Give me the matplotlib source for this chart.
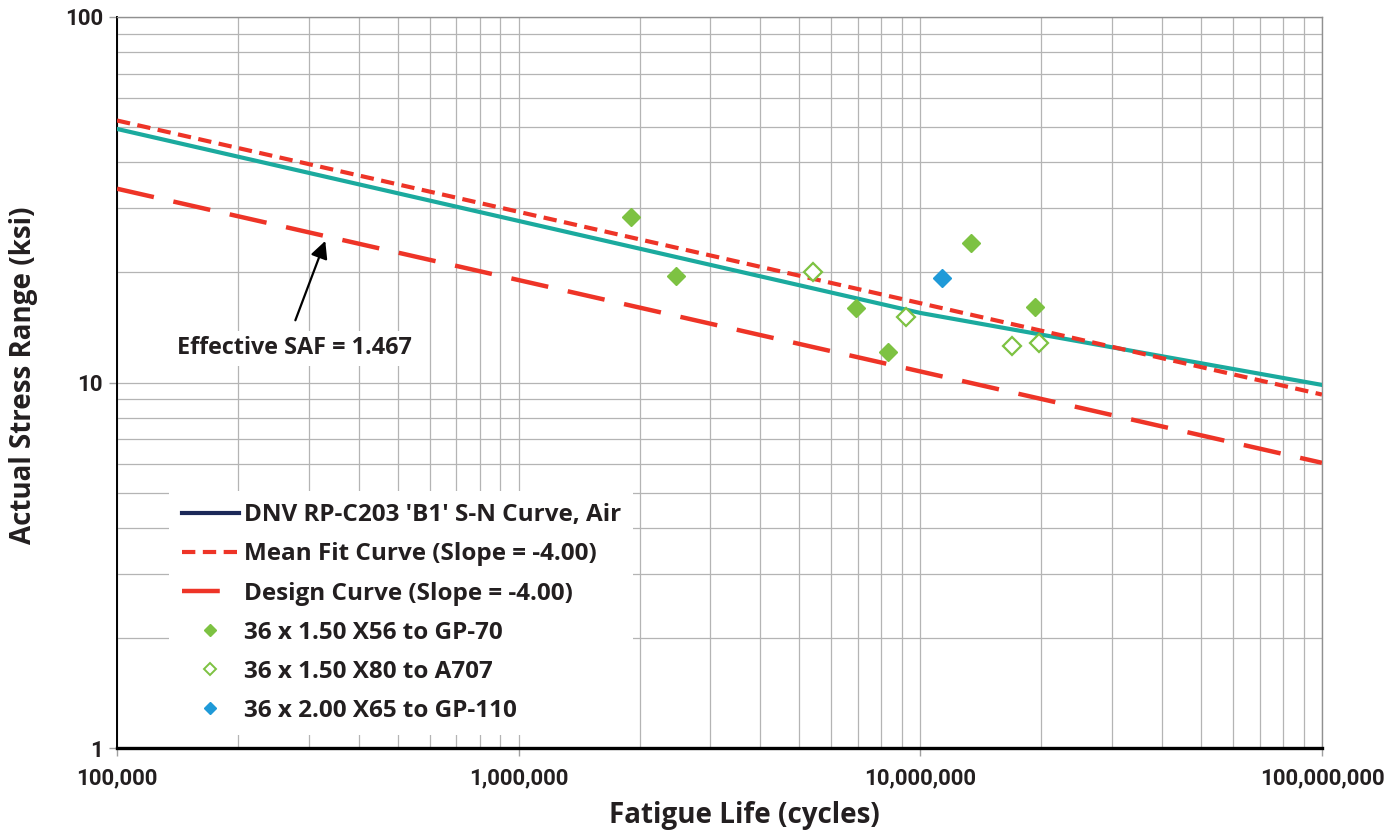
"""
S-N plot: fatigue life vs actual stress range, log-log,
DNV B1 air curve with mean fit / design curves and test points.
"""

import numpy as np
import matplotlib
matplotlib.use("Agg")
import matplotlib.pyplot as plt
from matplotlib.lines import Line2D
from matplotlib.ticker import FixedLocator, FuncFormatter, NullFormatter

# ======== Data ========

# DNV RP-C203 B1 air curve (bilinear, knee at 1e7 cycles)
dnv_n = [1e5, 1e7, 1e8]
dnv_s = [49.4, 15.5, 9.85]

# Mean fit and design curves (slope -4)
mean_n = [1e5, 1e8]
mean_s = [52.1, 9.27]
design_n = [1e5, 1e8]
design_s = [33.9, 6.03]

# Test data
x56_n = [1.9e6, 2.46e6, 6.9e6, 8.3e6, 1.34e7, 1.93e7]
x56_s = [28.4, 19.6, 16.0, 12.1, 24.1, 16.1]

x80_n = [5.4e6, 9.2e6, 1.69e7, 1.98e7]
x80_s = [20.0, 15.1, 12.6, 12.8]

x65_n = [1.13e7]
x65_s = [19.3]

saf_label = "Effective SAF = 1.467"
saf_tip = (3.3e5, 24.4)
saf_tail = (2.78e5, 14.8)

# ======== Style ========

TEAL = "#1BAA9E"
NAVY = "#1C2858"
RED = "#EE3427"
GREEN = "#7DC242"
BLUE = "#1F9AD8"
GRID = "#B4B4B4"
TEXT = "#231F20"

MAIN_FONT = "Open Sans"
TICK_FONT = "Roboto"

plt.rcParams["font.family"] = MAIN_FONT


def main():
    fig = plt.figure(figsize=(13.98, 8.33), dpi=100)
    ax = fig.add_axes([0.0837, 0.102, 0.8619, 0.8776])

    ax.set_xscale("log")
    ax.set_yscale("log")
    ax.set_xlim(1e5, 1e8)
    ax.set_ylim(1, 100)

    # grid
    ax.grid(True, which="both", color=GRID, linewidth=0.9, zorder=0)
    ax.set_axisbelow(True)

    # curves
    ax.plot(dnv_n, dnv_s, color=TEAL, linewidth=3.0, zorder=3)
    ax.plot(mean_n, mean_s, color=RED, linewidth=3.0, dashes=(3.2, 1.8), zorder=4)
    ax.plot(design_n, design_s, color=RED, linewidth=3.2, dashes=(8.5, 4.5), zorder=4)

    # points
    ax.plot(x56_n, x56_s, linestyle="none", marker="D", markersize=9.5,
            color=GREEN, markeredgecolor=GREEN, zorder=5)
    ax.plot(x80_n, x80_s, linestyle="none", marker="D", markersize=9.5,
            markerfacecolor="white", markeredgecolor=GREEN, markeredgewidth=1.6, zorder=5)
    ax.plot(x65_n, x65_s, linestyle="none", marker="D", markersize=9.5,
            color=BLUE, markeredgecolor=BLUE, zorder=5)

    # SAF annotation
    ax.annotate("", xy=saf_tip, xytext=saf_tail,
                arrowprops=dict(arrowstyle="-|>", color="black", lw=1.6,
                                mutation_scale=26, shrinkA=0, shrinkB=0),
                zorder=6)
    ax.text(2.76e5, 12.4, saf_label, ha="center", va="center",
            family=MAIN_FONT, fontsize=16.8, fontweight="bold", color=TEXT, zorder=6,
            bbox=dict(facecolor="white", edgecolor="none", pad=4))

    # legend (proxy handles, as in the source the B1 entry shows navy)
    handles = [
        Line2D([], [], color=NAVY, linewidth=3.0),
        Line2D([], [], color=RED, linewidth=3.0, dashes=(3.2, 1.8)),
        Line2D([], [], color=RED, linewidth=3.2, dashes=(8.5, 4.5)),
        Line2D([], [], linestyle="none", marker="D", markersize=6, color=GREEN),
        Line2D([], [], linestyle="none", marker="D", markersize=6,
               markerfacecolor="white", markeredgecolor=GREEN, markeredgewidth=1.4),
        Line2D([], [], linestyle="none", marker="D", markersize=6, color=BLUE),
    ]
    labels = [
        "DNV RP-C203 'B1' S-N Curve, Air",
        "Mean Fit Curve (Slope = -4.00)",
        "Design Curve (Slope = -4.00)",
        "36 x 1.50 X56 to GP-70",
        "36 x 1.50 X80 to A707",
        "36 x 2.00 X65 to GP-110",
    ]
    leg = ax.legend(handles, labels, loc="lower left", bbox_to_anchor=(0.0435, 0.018),
                    frameon=True, fancybox=False, framealpha=1.0, edgecolor="none",
                    prop=dict(family=MAIN_FONT, size=17.5, weight="bold"),
                    handlelength=2.35, handletextpad=0.2, labelspacing=0.62,
                    borderpad=0.5, borderaxespad=0.0)
    for t in leg.get_texts():
        t.set_color(TEXT)
    leg.set_zorder(7)

    # ticks
    ax.xaxis.set_major_locator(FixedLocator([1e5, 1e6, 1e7, 1e8]))
    ax.xaxis.set_major_formatter(FuncFormatter(lambda v, p: f"{int(round(v)):,}"))
    ax.xaxis.set_minor_formatter(NullFormatter())
    ax.yaxis.set_major_locator(FixedLocator([1, 10, 100]))
    ax.yaxis.set_major_formatter(FuncFormatter(lambda v, p: f"{int(round(v))}"))
    ax.yaxis.set_minor_formatter(NullFormatter())
    ax.tick_params(axis="both", which="major", length=6, width=1.0, color="#A0A0A0",
                   labelsize=16, labelcolor=TEXT)
    ax.tick_params(axis="both", which="minor", length=0)
    ax.tick_params(axis="x", pad=8)
    ax.tick_params(axis="y", pad=4)
    for lab in ax.get_xticklabels() + ax.get_yticklabels():
        lab.set_family(TICK_FONT)
        lab.set_fontweight("bold")

    # spines
    ax.spines["left"].set_color("black")
    ax.spines["left"].set_linewidth(1.4)
    ax.spines["bottom"].set_color("black")
    ax.spines["bottom"].set_linewidth(2.4)
    ax.spines["top"].set_color("#909090")
    ax.spines["top"].set_linewidth(1.0)
    ax.spines["right"].set_color("#909090")
    ax.spines["right"].set_linewidth(1.0)

    ax.set_xlabel("Fatigue Life (cycles)", family=MAIN_FONT, fontsize=20,
                  fontweight="bold", color=TEXT)
    ax.set_ylabel("Actual Stress Range (ksi)", family=MAIN_FONT, fontsize=20,
                  fontweight="bold", color=TEXT)
    # the source centres the titles on the chart area, not the plot box
    ax.xaxis.set_label_coords(0.521, -0.0725)
    ax.yaxis.set_label_coords(-0.0656, 0.510)

    fig.savefig("out.png", dpi=100)


if __name__ == "__main__":
    main()
